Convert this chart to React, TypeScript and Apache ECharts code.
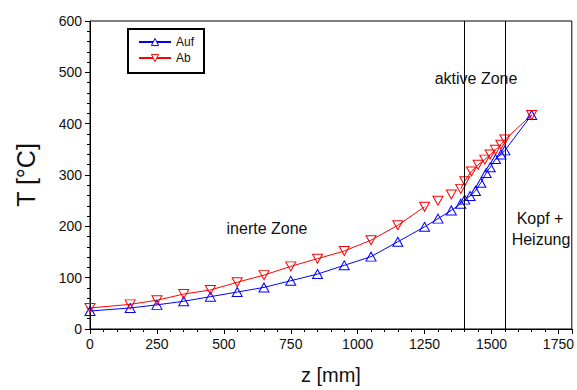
import React, { useEffect, useRef } from "react";
import * as echarts from "echarts";

const aufZ = [0, 150, 250, 350, 450, 550, 650, 750, 850, 950, 1050, 1150, 1250, 1300, 1350, 1385, 1400, 1420, 1440, 1460, 1480, 1495, 1515, 1535, 1550, 1650];
const aufT = [35, 41, 47, 54, 63, 72, 81, 94, 107, 124, 141, 170, 199, 215, 231, 244, 252, 259, 269, 285, 304, 315, 331, 340, 348, 417];

const abZ = [0, 150, 250, 350, 450, 550, 650, 750, 850, 950, 1050, 1150, 1250, 1300, 1350, 1385, 1400, 1425, 1450, 1475, 1495, 1515, 1535, 1550, 1650];
const abT = [41, 48, 56, 68, 76, 91, 105, 122, 137, 152, 173, 202, 238, 250, 262, 273, 288, 307, 320, 330, 340, 349, 359, 369, 417];
// the red curve is not connected after these z positions
const abBreaksAfter = [1250, 1300, 1350];

const zoneLines = [1400, 1550];

const FONT = "'Liberation Sans', Arial, sans-serif";
const BLUE = "#0000ff";
const RED = "#ff0000";

export default function App() {
  const ref = useRef<HTMLDivElement>(null);
  useEffect(() => {
    if (!ref.current) return;
    const chart = echarts.init(ref.current, undefined, { renderer: "svg" });
    const aufData = aufZ.map((z, i) => [z, aufT[i]]);
    const abData: any[] = [];
    abZ.forEach((z, i) => {
      abData.push([z, abT[i]]);
      if (abBreaksAfter.includes(z)) abData.push([z, "-"]);
    });
    chart.setOption({
      animation: false,
      backgroundColor: "#fff",
      textStyle: { fontFamily: FONT },
      grid: { left: 90, top: 21, right: 5, bottom: 60, show: true, borderColor: "#000", borderWidth: 1 },
      legend: {
        left: 128,
        top: 29,
        orient: "vertical",
        backgroundColor: "#fff",
        borderColor: "#000",
        borderWidth: 2,
        padding: [7, 10, 9, 10],
        itemWidth: 32,
        itemHeight: 9,
        itemGap: 4,
        textStyle: { fontSize: 12, color: "#111", fontFamily: FONT },
        data: [
          { name: "Auf", itemStyle: { color: "#fff", borderColor: BLUE, borderWidth: 1 } },
          { name: "Ab", itemStyle: { color: "#fff", borderColor: RED, borderWidth: 1 } },
        ],
      },
      xAxis: {
        type: "value",
        min: 0,
        max: 1800,
        interval: 250,
        name: "z [mm]",
        nameLocation: "middle",
        nameGap: 36,
        nameTextStyle: { fontSize: 20, color: "#111", fontFamily: FONT },
        axisLine: { lineStyle: { color: "#000", width: 1 } },
        axisTick: { show: true, length: 5, lineStyle: { color: "#000" } },
        minorTick: { show: true, splitNumber: 5, length: 3, lineStyle: { color: "#000" } },
        splitLine: { show: false },
        axisLabel: { fontSize: 14, color: "#111", margin: 8, showMaxLabel: false, fontFamily: FONT, formatter: (v: number) => String(v) },
      },
      yAxis: {
        type: "value",
        min: 0,
        max: 600,
        interval: 100,
        name: "T [°C]",
        nameLocation: "middle",
        nameGap: 52,
        nameTextStyle: { fontSize: 25, color: "#111", fontFamily: FONT },
        axisLine: { show: true, lineStyle: { color: "#000", width: 1 } },
        axisTick: { show: true, length: 5, lineStyle: { color: "#000" } },
        minorTick: { show: true, splitNumber: 5, length: 3, lineStyle: { color: "#000" } },
        splitLine: { show: false },
        axisLabel: { fontSize: 14, color: "#111", margin: 8, fontFamily: FONT, formatter: (v: number) => String(v) },
      },
      series: [
        {
          name: "Auf",
          type: "line",
          data: aufData,
          symbol: "triangle",
          symbolSize: [10, 9],
          lineStyle: { color: BLUE, width: 1 },
          itemStyle: { color: "rgba(0,0,0,0)", borderColor: BLUE, borderWidth: 1 },
          markLine: {
            silent: true,
            symbol: "none",
            label: { show: false },
            lineStyle: { color: "#000", width: 1, type: "solid" },
            data: zoneLines.map((z) => ({ xAxis: z })),
          },
        },
        {
          name: "Ab",
          type: "line",
          data: abData,
          connectNulls: false,
          symbol: "triangle",
          symbolRotate: 180,
          symbolSize: [10, 9],
          lineStyle: { color: RED, width: 1 },
          itemStyle: { color: "rgba(0,0,0,0)", borderColor: RED, borderWidth: 1 },
        },
      ],
      graphic: [
        { type: "text", x: 267, y: 228, style: { text: "inerte Zone", fontSize: 16, fill: "#111", align: "center", verticalAlign: "middle", fontFamily: FONT } },
        { type: "text", x: 476, y: 78, style: { text: "aktive Zone", fontSize: 16, fill: "#111", align: "center", verticalAlign: "middle", fontFamily: FONT } },
        { type: "text", x: 540, y: 218, style: { text: "Kopf +", fontSize: 16, fill: "#111", align: "center", verticalAlign: "middle", fontFamily: FONT } },
        { type: "text", x: 541, y: 239, style: { text: "Heizung", fontSize: 16, fill: "#111", align: "center", verticalAlign: "middle", fontFamily: FONT } },
      ],
    });
    return () => chart.dispose();
  }, []);
  return <div ref={ref} style={{ width: 577, height: 390, position: "absolute", left: 0, top: 0 }} />;
}
